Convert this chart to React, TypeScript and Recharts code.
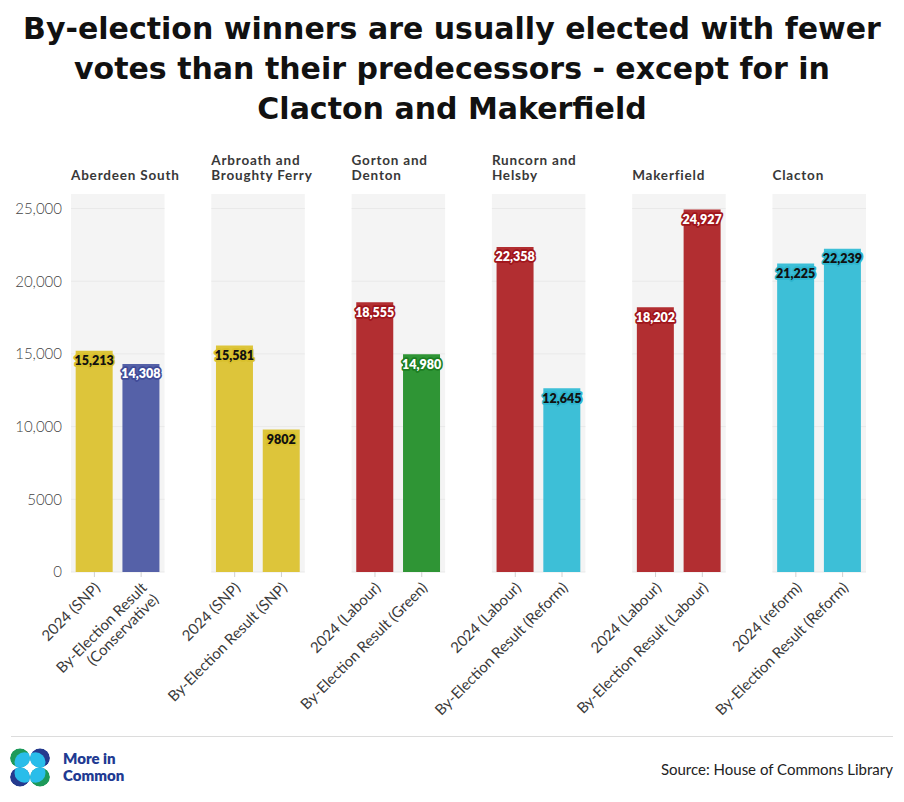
import React from 'react';
import { BarChart, Bar, XAxis, YAxis, ReferenceArea, Cell, LabelList } from 'recharts';

const titleLines = [
  'By-election winners are usually elected with fewer',
  'votes than their predecessors - except for in',
  'Clacton and Makerfield',
];
const constituencies = ['Aberdeen South', 'Arbroath and Broughty Ferry', 'Gorton and Denton', 'Runcorn and Helsby', 'Makerfield', 'Clacton'];
const labels2024 = ['2024 (SNP)', '2024 (SNP)', '2024 (Labour)', '2024 (Labour)', '2024 (Labour)', '2024 (reform)'];
const labelsBy = [
  'By-Election Result (Conservative)',
  'By-Election Result (SNP)',
  'By-Election Result (Green)',
  'By-Election Result (Reform)',
  'By-Election Result (Labour)',
  'By-Election Result (Reform)',
];
const votes2024 = [15213, 15581, 18555, 22358, 18202, 21225];
const votesBy = [14308, 9802, 14980, 12645, 24927, 22239];
const parties2024 = ['SNP', 'SNP', 'Labour', 'Labour', 'Labour', 'Reform'];
const partiesBy = ['Conservative', 'SNP', 'Green', 'Reform', 'Labour', 'Reform'];
const yTicks = [0, 5000, 10000, 15000, 20000, 25000];
const yMax = 26000;
const sourceText = 'Source: House of Commons Library';
const brandLines = ['More in', 'Common'];

const partyStyle: Record<string, { fill: string; halo: string; text: string }> = {
  SNP: { fill: '#ddc53a', halo: '#d9c02c', text: '#111' },
  Conservative: { fill: '#5561a8', halo: '#3f4b98', text: '#fff' },
  Labour: { fill: '#b22e31', halo: '#a0151b', text: '#fff' },
  Green: { fill: '#2f9535', halo: '#1c7e22', text: '#fff' },
  Reform: { fill: '#3dbfd7', halo: '#2eb5cf', text: '#111' },
};

type Row = { key: string; label: string; value: number | null; party: string; panel: number; first: boolean; spacer: boolean };

const rows: Row[] = [];
constituencies.forEach((c, i) => {
  rows.push({ key: `p${i}a`, label: labels2024[i], value: votes2024[i], party: parties2024[i], panel: i, first: true, spacer: false });
  rows.push({ key: `p${i}b`, label: labelsBy[i], value: votesBy[i], party: partiesBy[i], panel: i, first: false, spacer: false });
  if (i < constituencies.length - 1) {
    rows.push({ key: `gap${i}`, label: '', value: null, party: '', panel: i, first: false, spacer: true });
  }
});
const rowByKey: Record<string, Row> = {};
rows.forEach((r) => (rowByKey[r.key] = r));

const fmt = (v: number) => (v >= 10000 ? v.toLocaleString('en-GB') : String(v));

const FONT = 'Lato, "Open Sans", sans-serif';
const TITLE_FONT = '"DejaVu Sans", Lato, sans-serif';

const splitHeader = (s: string) => {
  if (s.length <= 14) return [s];
  const idx = s.indexOf(' and ');
  if (idx < 0) return [s];
  return [s.slice(0, idx + 4), s.slice(idx + 5)];
};

const splitTick = (s: string) => {
  if (s.length <= 30) return [s];
  const idx = s.lastIndexOf(' ');
  return [s.slice(0, idx), s.slice(idx + 1)];
};

const BottomTick = (props: any) => {
  const { x, y, payload } = props;
  const row = rowByKey[payload?.value];
  if (!row || row.spacer) return <g />;
  const lines = splitTick(row.label);
  const px = x + 3;
  const py = y + 13;
  return (
    <g>
      <line x1={x} x2={x} y1={y} y2={y + 5} stroke="#d0d0d0" strokeWidth={1} />
      <text
        x={px}
        y={py}
        transform={`rotate(-45, ${px}, ${py})`}
        textAnchor="end"
        fontFamily={FONT}
        fontSize={15}
        fontWeight={400}
        fill="#3a3a3a"
      >
        {lines.map((l, i) => (
          <tspan key={i} x={px} dy={i === 0 ? '0.35em' : '1.1em'}>
            {l}
          </tspan>
        ))}
      </text>
    </g>
  );
};

const TopTick = (props: any) => {
  const { x, y, payload } = props;
  const row = rowByKey[payload?.value];
  if (!row || !row.first) return <g />;
  const lines = splitHeader(constituencies[row.panel]);
  const left = x - (payload.offset ?? 0);
  const n = lines.length;
  return (
    <text fontFamily={FONT} fontSize={13.5} fontWeight={700} fill="#383838" letterSpacing={0.8}>
      {lines.map((l, i) => (
        <tspan key={i} x={left} y={y - 14 - (n - 1 - i) * 15}>
          {l}
        </tspan>
      ))}
    </text>
  );
};

const PanelBg = (props: any) => {
  const { x, y, width, height } = props;
  if ([x, y, width, height].some((v) => v == null || Number.isNaN(Number(v)))) return <g />;
  return (
    <g>
      <rect x={x} y={y} width={width} height={height} fill="#f4f4f4" />
      {yTicks.map((t) => {
        const yy = y + height * (1 - t / yMax);
        return <line key={t} x1={x} x2={x + width} y1={yy} y2={yy} stroke="#e9e9e9" strokeWidth={1} />;
      })}
    </g>
  );
};

const ValueLabel = (props: any) => {
  const { x, y, width, value } = props;
  const row = rowByKey[String(value)];
  if (!row || row.spacer || row.value == null) return null;
  const st = partyStyle[row.party];
  if (!st) return null;
  const cx = Number(x) + Number(width) / 2;
  const cy = Number(y) + 10;
  return (
    <text
      x={cx}
      y={cy}
      textAnchor="middle"
      dominantBaseline="central"
      fontFamily={FONT}
      fontSize={12.5}
      fontWeight={800}
      fill={st.text}
      stroke={st.halo}
      strokeWidth={3.5}
      strokeLinejoin="round"
      paintOrder="stroke"
    >
      {fmt(row.value)}
    </text>
  );
};

const Logo = () => {
  const cx = [20, 40];
  const cy = [758, 777];
  const items = [
    { x: cx[0], y: cy[0], dark: '#1d9a5a', dx: 1, dy: 1 },
    { x: cx[1], y: cy[0], dark: '#253a8e', dx: -1, dy: 1 },
    { x: cx[0], y: cy[1], dark: '#253a8e', dx: 1, dy: -1 },
    { x: cx[1], y: cy[1], dark: '#1d9a5a', dx: -1, dy: -1 },
  ];
  return (
    <g>
      <defs>
        {items.map((it, i) => (
          <clipPath id={`lc${i}`} key={i}>
            <ellipse cx={it.x} cy={it.y} rx={10} ry={9.7} />
          </clipPath>
        ))}
      </defs>
      {items.map((it, i) => (
        <g key={i} clipPath={`url(#lc${i})`}>
          <ellipse cx={it.x} cy={it.y} rx={10} ry={9.7} fill={it.dark} />
          <ellipse cx={it.x + it.dx * 4.5} cy={it.y + it.dy * 4} rx={10} ry={9.7} fill="#29bdea" />
        </g>
      ))}
    </g>
  );
};

export default function App() {
  return (
    <div style={{ position: 'absolute', left: 0, top: 0, width: 904, height: 802, background: '#fff' }}>
      <div style={{ position: 'absolute', left: 0, top: 0 }}>
        <BarChart
          width={904}
          height={730}
          data={rows}
          margin={{ top: 134, right: 38, bottom: 8, left: 0 }}
          barCategoryGap="10%"
        >
          {constituencies.map((c, i) => (
            <ReferenceArea
              key={c}
              x1={`p${i}a`}
              x2={`p${i}b`}
              y1={0}
              y2={yMax}
              fill="#f4f4f4"
              fillOpacity={1}
              stroke="none"
              shape={(p: any) => <PanelBg {...p} />}
            />
          ))}
          <XAxis
            dataKey="key"
            interval={0}
            axisLine={false}
            tickLine={false}
            tickSize={0}
            tickMargin={0}
            height={150}
            tick={(p: any) => <BottomTick {...p} />}
          />
          <XAxis
            xAxisId="top"
            orientation="top"
            dataKey="key"
            interval={0}
            axisLine={false}
            tickLine={false}
            tickSize={0}
            tickMargin={0}
            height={60}
            tick={(p: any) => <TopTick {...p} />}
          />
          <YAxis
            domain={[0, yMax]}
            ticks={yTicks}
            interval={0}
            axisLine={false}
            tickLine={false}
            tickSize={0}
            tickMargin={9}
            width={71}
            tickFormatter={fmt}
            tick={{ fontFamily: FONT, fontSize: 15, fontWeight: 300, fill: '#444' }}
          />
          <Bar dataKey="value" isAnimationActive={false}>
            {rows.map((r) => (
              <Cell key={r.key} fill={r.spacer ? 'none' : partyStyle[r.party].fill} />
            ))}
            <LabelList dataKey="key" content={(p: any) => <ValueLabel {...p} />} />
          </Bar>
        </BarChart>
      </div>
      <svg width={904} height={802} style={{ position: 'absolute', left: 0, top: 0, pointerEvents: 'none' }}>
        {titleLines.map((t, i) => (
          <text
            key={i}
            x={452}
            y={39 + i * 40}
            textAnchor="middle"
            fontFamily={TITLE_FONT}
            fontSize={30}
            fontWeight={700}
            fill="#111"
          >
            {t}
          </text>
        ))}
        <line x1={11} x2={893} y1={736.5} y2={736.5} stroke="#dcdcdc" strokeWidth={1} />
        <Logo />
        {brandLines.map((t, i) => (
          <text key={i} x={63} y={764 + i * 17} fontFamily={FONT} fontSize={15} fontWeight={800} fill="#213a92">
            {t}
          </text>
        ))}
        <text x={893} y={775} textAnchor="end" fontFamily={FONT} fontSize={15} fontWeight={400} fill="#222">
          {sourceText}
        </text>
      </svg>
    </div>
  );
}
